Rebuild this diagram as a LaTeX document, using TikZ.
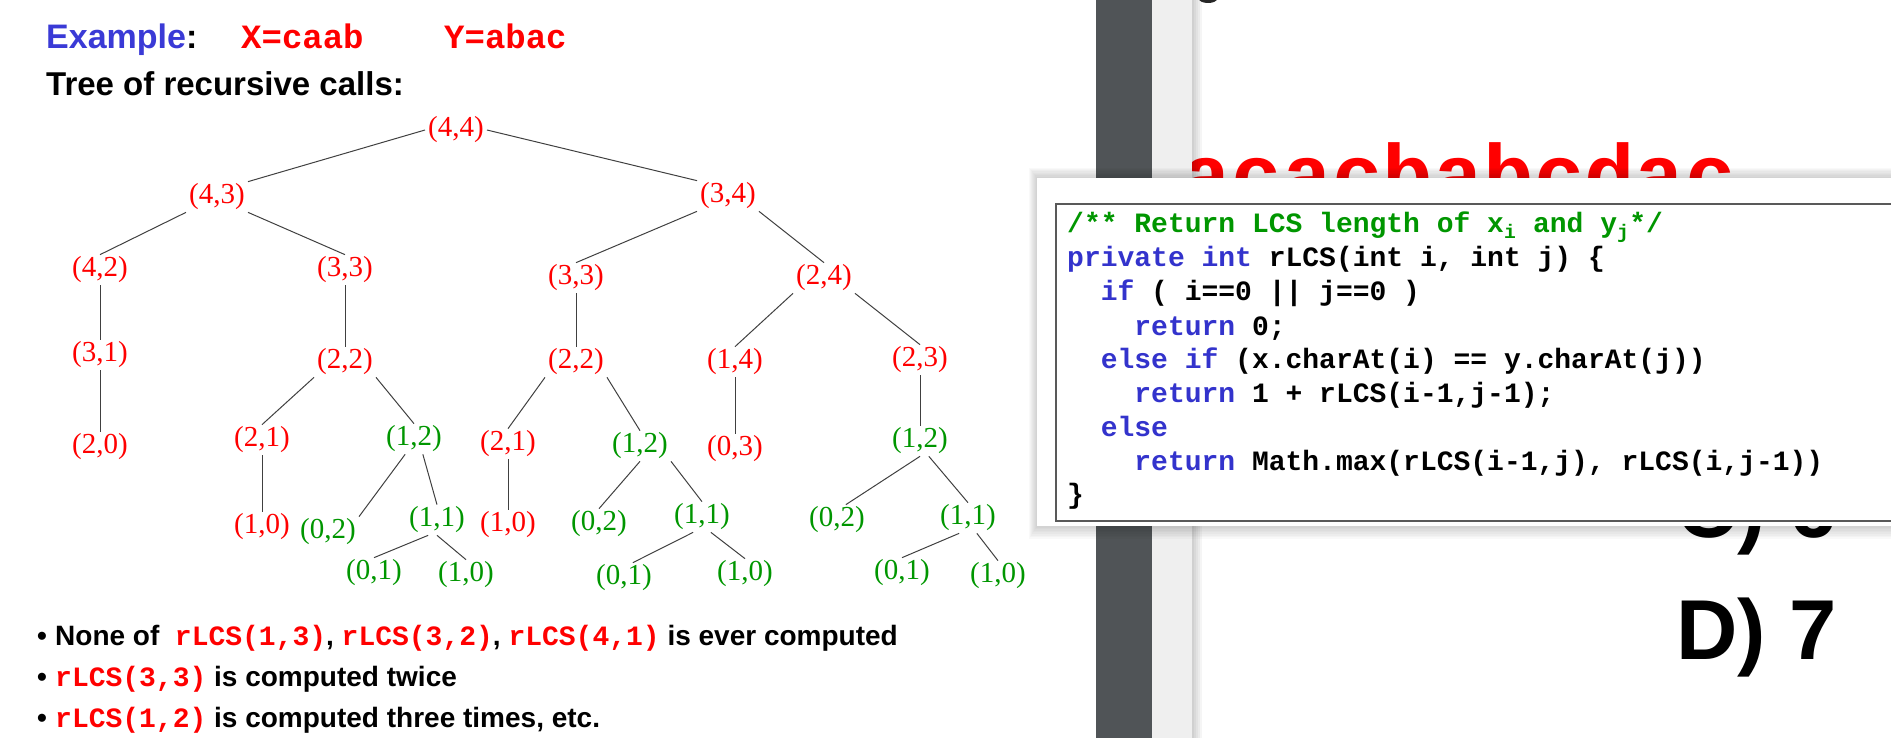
\documentclass[tikz,border=0pt]{standalone}
\usepackage{fontspec}
\setmainfont{Liberation Serif}
\setsansfont{Liberation Sans}
\setmonofont{Liberation Mono}
\usetikzlibrary{positioning}
\definecolor{lcsred}{RGB}{255,0,0}
\definecolor{lcsgreen}{RGB}{0,150,0}
\definecolor{exblue}{RGB}{58,58,214}
\definecolor{kwblue}{RGB}{51,51,204}
\definecolor{bardark}{RGB}{80,84,87}
\definecolor{barlight}{RGB}{239,239,239}
\newcommand{\rcall}[1]{\textcolor{lcsred}{\ttfamily #1}}
\newcommand{\kw}[1]{\textcolor{kwblue}{#1}}

\begin{document}
\begin{tikzpicture}[x=1pt,y=-1pt,on grid,
  call/.style={font=\fontsize{29}{29}\selectfont,inner xsep=3pt,inner ysep=2pt},
  newcall/.style={call,text=lcsred},
  oldcall/.style={call,text=lcsgreen},
  link/.style={draw=black!75,line width=1pt},
  head/.style={inner sep=0pt,anchor=base west,font=\sffamily\bfseries\fontsize{34}{34}\selectfont},
  note/.style={inner sep=0pt,anchor=base west,font=\sffamily\bfseries\fontsize{28}{28}\selectfont},
  code/.style={inner sep=0pt,anchor=base west,font=\ttfamily\bfseries\fontsize{28}{34}\selectfont},
  big/.style={inner sep=0pt,anchor=base west,font=\sffamily\bfseries\fontsize{85}{85}\selectfont}]

        \useasboundingbox (0,0) rectangle (1891,738);
        \clip (0,0) rectangle (1891,738);

        % slide header
        \node[head] (ex) at (46,49) {\textcolor{exblue}{Example}:};
        \node[head,text=lcsred,font=\ttfamily\bfseries\fontsize{34}{34}\selectfont] (xs) at (241,49) {X=caab};
        \node[head,text=lcsred,font=\ttfamily\bfseries\fontsize{34}{34}\selectfont] (ys) at (444,49) {Y=abac};
        \node[head,font=\sffamily\bfseries\fontsize{33}{33}\selectfont] (title) at (46,96) {Tree of recursive calls:};

        % tree of calls
        \node[newcall] (n44) at (456,130) {(4,4)};
        \node[newcall] (n43) [below left=67pt and 239pt of n44] {(4,3)};
        \node[newcall] (n34) [below right=66pt and 272pt of n44] {(3,4)};
        \node[newcall] (n42) [below left=73pt and 117pt of n43] {(4,2)};
        \node[newcall] (n33a) [below right=73pt and 128pt of n43] {(3,3)};
        \node[newcall] (n33b) [below left=82pt and 152pt of n34] {(3,3)};
        \node[newcall] (n24) [below right=82pt and 96pt of n34] {(2,4)};
        \node[newcall] (n31) [below=85pt of n42] {(3,1)};
        \node[newcall] (n22a) [below=92pt of n33a] {(2,2)};
        \node[newcall] (n22b) [below=84pt of n33b] {(2,2)};
        \node[newcall] (n14) [below left=84pt and 89pt of n24] {(1,4)};
        \node[newcall] (n23) [below right=82pt and 96pt of n24] {(2,3)};
        \node[newcall] (n20) [below=92pt of n31] {(2,0)};
        \node[newcall] (n21a) [below left=78pt and 83pt of n22a] {(2,1)};
        \node[oldcall] (n12a) [below right=77pt and 69pt of n22a] {(1,2)};
        \node[newcall] (n21b) [below left=82pt and 68pt of n22b] {(2,1)};
        \node[oldcall] (n12b) [below right=84pt and 64pt of n22b] {(1,2)};
        \node[newcall] (n03) [below=87pt of n14] {(0,3)};
        \node[oldcall] (n12c) [below=81pt of n23] {(1,2)};
        \node[newcall] (n10a) [below=87pt of n21a] {(1,0)};
        \node[oldcall] (n02a) [below left=93pt and 86pt of n12a] {(0,2)};
        \node[oldcall] (n11a) [below right=81pt and 23pt of n12a] {(1,1)};
        \node[newcall] (n10b) [below=81pt of n21b] {(1,0)};
        \node[oldcall] (n02b) [below left=78pt and 41pt of n12b] {(0,2)};
        \node[oldcall] (n11b) [below right=71pt and 62pt of n12b] {(1,1)};
        \node[oldcall] (n02c) [below left=79pt and 83pt of n12c] {(0,2)};
        \node[oldcall] (n11c) [below right=77pt and 48pt of n12c] {(1,1)};
        \node[oldcall] (n01a) [below left=53pt and 63pt of n11a] {(0,1)};
        \node[oldcall] (n10c) [below right=55pt and 29pt of n11a] {(1,0)};
        \node[oldcall] (n01b) [below left=61pt and 78pt of n11b] {(0,1)};
        \node[oldcall] (n10d) [below right=57pt and 43pt of n11b] {(1,0)};
        \node[oldcall] (n01c) [below left=55pt and 66pt of n11c] {(0,1)};
        \node[oldcall] (n10e) [below right=58pt and 30pt of n11c] {(1,0)};

        \draw[link] (n44.west) -- (n43.north east);
        \draw[link] (n44.east) -- (n34.north west);
        \draw[link] (n43.south west) -- (n42.north);
        \draw[link] (n43.south east) -- (n33a.north);
        \draw[link] (n34.south west) -- (n33b.north);
        \draw[link] (n34.south east) -- (n24.north);
        \draw[link] (n42) -- (n31);
        \draw[link] (n33a) -- (n22a);
        \draw[link] (n33b) -- (n22b);
        \draw[link] (n24.south west) -- (n14.north);
        \draw[link] (n24.south east) -- (n23.north);
        \draw[link] (n31) -- (n20);
        \draw[link] (n22a.south west) -- (n21a.north);
        \draw[link] (n22a.south east) -- (n12a.north);
        \draw[link] (n22b.south west) -- (n21b.north);
        \draw[link] (n22b.south east) -- (n12b.north);
        \draw[link] (n14) -- (n03);
        \draw[link] (n23) -- (n12c);
        \draw[link] (n21a) -- (n10a);
        \draw[link] (n12a.240) -- (n02a.north east);
        \draw[link] (n12a.300) -- (n11a.north);
        \draw[link] (n21b) -- (n10b);
        \draw[link] (n12b.south) -- (n02b.north);
        \draw[link] (n12b.south east) -- (n11b.north);
        \draw[link] (n12c.south) -- (n02c.60);
        \draw[link] (n12c.300) -- (n11c.north);
        \draw[link] (n11a.240) -- (n01a.north);
        \draw[link] (n11a.south) -- (n10c.north);
        \draw[link] (n11b.240) -- (n01b.60);
        \draw[link] (n11b.300) -- (n10d.north);
        \draw[link] (n11c.240) -- (n01c.north);
        \draw[link] (n11c.300) -- (n10e.north);

        % remarks
        \node[note] (b1) at (37,645) {\textbullet};
        \node[note] (t1) at (55,645) {None of\ \ \rcall{rLCS(1,3)}, \rcall{rLCS(3,2)}, \rcall{rLCS(4,1)} is ever computed};
        \node[note] (b2) at (37,686) {\textbullet};
        \node[note] (t2) at (55,686) {\rcall{rLCS(3,3)} is computed twice};
        \node[note] (b3) at (37,727) {\textbullet};
        \node[note] (t3) at (55,727) {\rcall{rLCS(1,2)} is computed three times, etc.};

        % slide behind the code window
        \node[inner sep=0pt,anchor=base west,text=lcsred,font=\ttfamily\bfseries\fontsize{84}{84}\selectfont] (seq) at (1181,204) {acacbabcdac};
        \node[big] (optc) at (1676,537) {C) 6};
        \node[big] (optd) at (1676,659) {D) 7};
        \fill[black!85] (1208,-1) ellipse [x radius=9,y radius=4];

        \fill[bardark] (1096,0) rectangle (1152,738);
        \fill[barlight] (1152,0) rectangle (1192,738);
        \foreach \k in {0,...,4}
          \fill[black,opacity=0.04] (1192,0) rectangle (1194+2*\k,738);

        % code window
        \foreach \k in {1,...,8}
          \fill[black,opacity=0.025] (1037-\k,178-1.3*\k) rectangle (1900,526+1.6*\k);
        \fill[white] (1037,178) rectangle (1900,526);
        \draw[black!65,line width=1.5pt] (1056,204) rectangle (1900,521);

        \node[code,text=lcsgreen] (l1) at (1067,233) {/** Return LCS length of x\textsubscript{i} and y\textsubscript{j}*/};
        \node[code] (l2) at (1067,267) {\kw{private int} rLCS(int i, int j) \{};
        \node[code] (l3) at (1100.6,301) {\kw{if} ( i==0 || j==0 )};
        \node[code] (l4) at (1134.2,335) {\kw{return} 0;};
        \node[code] (l5) at (1100.6,368) {\kw{else if} (x.charAt(i) == y.charAt(j))};
        \node[code] (l6) at (1134.2,402) {\kw{return} 1 + rLCS(i-1,j-1);};
        \node[code] (l7) at (1100.6,436) {\kw{else}};
        \node[code] (l8) at (1134.2,470) {\kw{return} Math.max(rLCS(i-1,j), rLCS(i,j-1))};
        \node[code] (l9) at (1067,503) {\}};
      \end{tikzpicture}
\end{document}
